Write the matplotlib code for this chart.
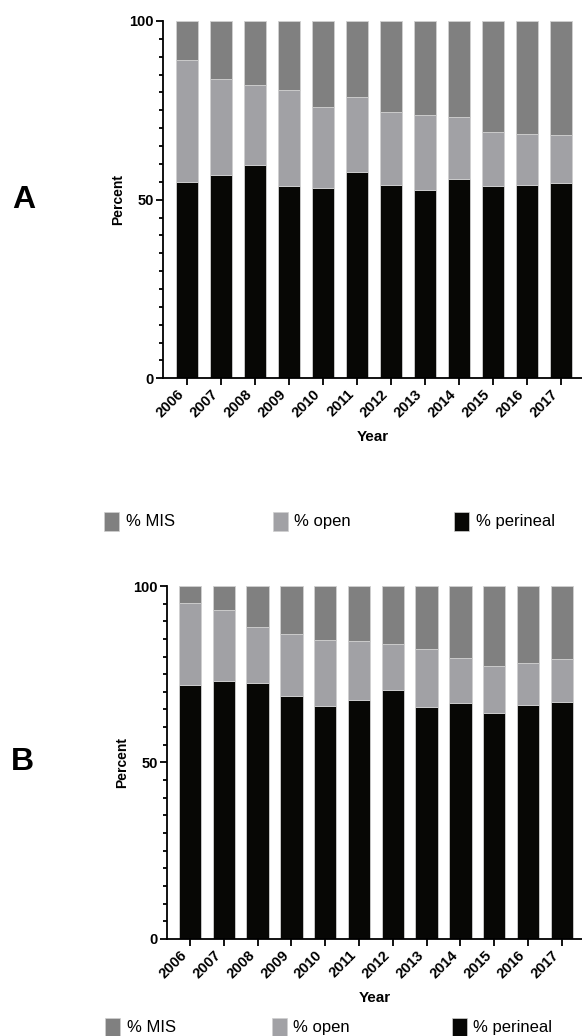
import matplotlib
matplotlib.use("Agg")
import matplotlib.pyplot as plt
from matplotlib.patches import Rectangle
from matplotlib.ticker import MultipleLocator
import numpy as np

plt.rcParams['font.family'] = ['Liberation Sans', 'DejaVu Sans']

years = ['2006', '2007', '2008', '2009', '2010', '2011',
         '2012', '2013', '2014', '2015', '2016', '2017']
series_names = ['% MIS', '% open', '% perineal']
series_colors = ['#808080', '#a1a1a5', '#070705']

# Panel A shares (%)
a_perineal = [55.0, 56.9, 59.6, 53.9, 53.4, 57.7, 54.2, 52.7, 55.8, 53.9, 54.1, 54.6]
a_open = [34.2, 26.8, 22.6, 26.9, 22.5, 21.1, 20.3, 21.0, 17.2, 15.1, 14.2, 13.4]
a_mis = [10.8, 16.3, 17.8, 19.2, 24.1, 21.2, 25.5, 26.3, 27.0, 31.0, 31.7, 32.0]

# Panel B shares (%)
b_perineal = [72.0, 73.0, 72.5, 68.9, 66.1, 67.6, 70.6, 65.8, 66.8, 64.0, 66.3, 67.0]
b_open = [23.2, 20.2, 16.0, 17.4, 18.7, 16.8, 13.1, 16.4, 12.7, 13.2, 11.9, 12.3]
b_mis = [4.8, 6.8, 11.5, 13.7, 15.2, 15.6, 16.3, 17.8, 20.5, 22.8, 21.8, 20.7]

W, H = 582, 1036
fig = plt.figure(figsize=(W / 100, H / 100), dpi=100)


def px_axes(left, top, right, bottom):
    return fig.add_axes([left / W, 1 - bottom / H, (right - left) / W, (bottom - top) / H])


def draw_panel(ax, perineal, open_, mis, xlim):
    x = np.arange(len(years))
    per = np.array(perineal)
    op = np.array(open_)
    mi = np.array(mis)
    kw = dict(width=0.66, edgecolor='#d0d0d0', linewidth=0.6)
    ax.bar(x, per, color=series_colors[2], **kw)
    ax.bar(x, op, bottom=per, color=series_colors[1], **kw)
    ax.bar(x, mi, bottom=per + op, color=series_colors[0], **kw)
    ax.set_xlim(*xlim)
    ax.set_ylim(0, 100)
    ax.set_xticks(x)
    ax.set_xticklabels(years, rotation=45, ha='right', fontsize=10.5, fontweight='bold')
    ax.set_yticks([0, 50, 100])
    ax.set_yticklabels(['0', '50', '100'], fontsize=10.5, fontweight='bold')
    ax.yaxis.set_minor_locator(MultipleLocator(5))
    for s in ['top', 'right']:
        ax.spines[s].set_visible(False)
    for s in ['left', 'bottom']:
        ax.spines[s].set_linewidth(1.3)
    ax.tick_params(axis='both', which='major', length=5, width=1.3, pad=1.5)
    ax.tick_params(axis='y', which='minor', length=3, width=1.3)
    ax.tick_params(axis='x', which='minor', length=0)
    ax.set_ylabel('Percent', fontsize=10, fontweight='bold', labelpad=3)
    ax.set_xlabel('Year', fontsize=11, fontweight='bold', labelpad=7)


axA = px_axes(163, 21, 582, 378.3)
draw_panel(axA, a_perineal, a_open, a_mis, (-0.706, 11.62))
axB = px_axes(166.7, 586, 582, 938.8)
draw_panel(axB, b_perineal, b_open, b_mis, (-0.69, 11.6))

fig.text(24 / W, 1 - 200 / H, 'A', fontsize=23, fontweight='bold', ha='center', va='center')
fig.text(22 / W, 1 - 762 / H, 'B', fontsize=23, fontweight='bold', ha='center', va='center')


def legend_row(y_top, y_bot, patch_x, text_x):
    for name, col, px0, tx in zip(series_names, series_colors, patch_x, text_x):
        fig.add_artist(Rectangle((px0 / W, 1 - y_bot / H), 15 / W, (y_bot - y_top) / H,
                                 transform=fig.transFigure, facecolor=col,
                                 edgecolor='#d0d0d0', linewidth=0.5))
        fig.text(tx / W, 1 - (y_top + y_bot) / 2 / H, name, fontsize=12,
                 ha='left', va='center')


legend_row(512, 531, [104, 273, 454], [126, 294, 476])
legend_row(1018, 1037, [105, 271.7, 451.7], [127, 293, 473])

fig.savefig('out.png', dpi=100)
